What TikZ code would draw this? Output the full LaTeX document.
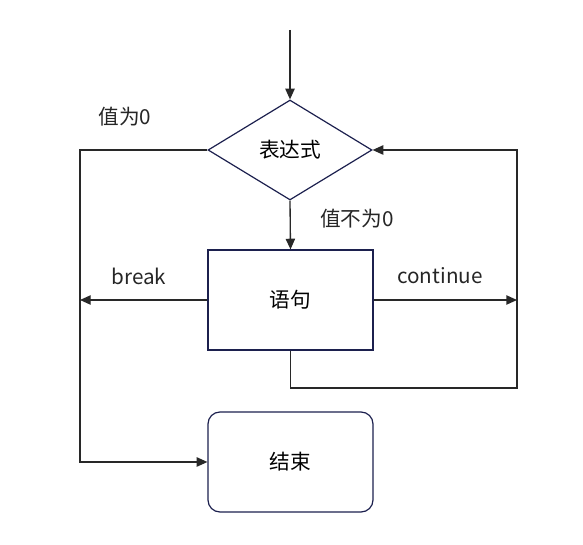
\documentclass[tikz,border=0pt]{standalone}
\usepackage{fontspec}
\setmainfont{Noto Sans CJK SC}
\usepackage{xcolor}
\usepackage{tikz}
\usetikzlibrary{shapes.geometric,arrows.meta}

\definecolor{boxline}{RGB}{28,32,78}
\definecolor{flowline}{RGB}{40,40,40}

\tikzset{
    box/.style={draw=boxline, line width=0.9pt, minimum width=123.75pt, minimum height=75pt, inner sep=0pt},
    flow/.style={draw=flowline, line width=1pt, -{Triangle[length=8pt,width=7pt]}},
    lbl/.style={inner sep=0pt, text=black!85}
}

\begin{document}
\begin{tikzpicture}[x=0.75pt, y=-0.75pt, font=\fontsize{15.5}{18}\selectfont]
                \useasboundingbox (0,0) rectangle (583,545);
                \coordinate (start) at (290,30);
                \node[box, diamond, minimum width=123pt] (cond) at (290,150) {表达式};
                \node[box] (body) at (290.5,300) {语句};
                \node[box, rounded corners=9pt] (stop) at (290.5,462) {结束};
                \coordinate (brk) at (80,300);
                \coordinate (cnt) at (517,300);
                \coordinate (back) at (517,388);

                \draw[flow] (start) -- (cond.north);
                \draw[flow] (cond.south) -- (body.north);
                \draw[flow] (cond.west) -| (brk) |- (stop.west);
                \draw[flow] (body.west) -- (brk);
                \draw[flow] (body.east) -- (cnt);
                \draw[flow] (body.south) |- (back) |- (cond.east);

                \node[lbl] at (125,117) {值为0};
                \node[lbl] at (357,219) {值不为0};
                \node[lbl] at (139,276) {break};
                \node[lbl] at (440,276) {continue};
            \end{tikzpicture}
\end{document}
